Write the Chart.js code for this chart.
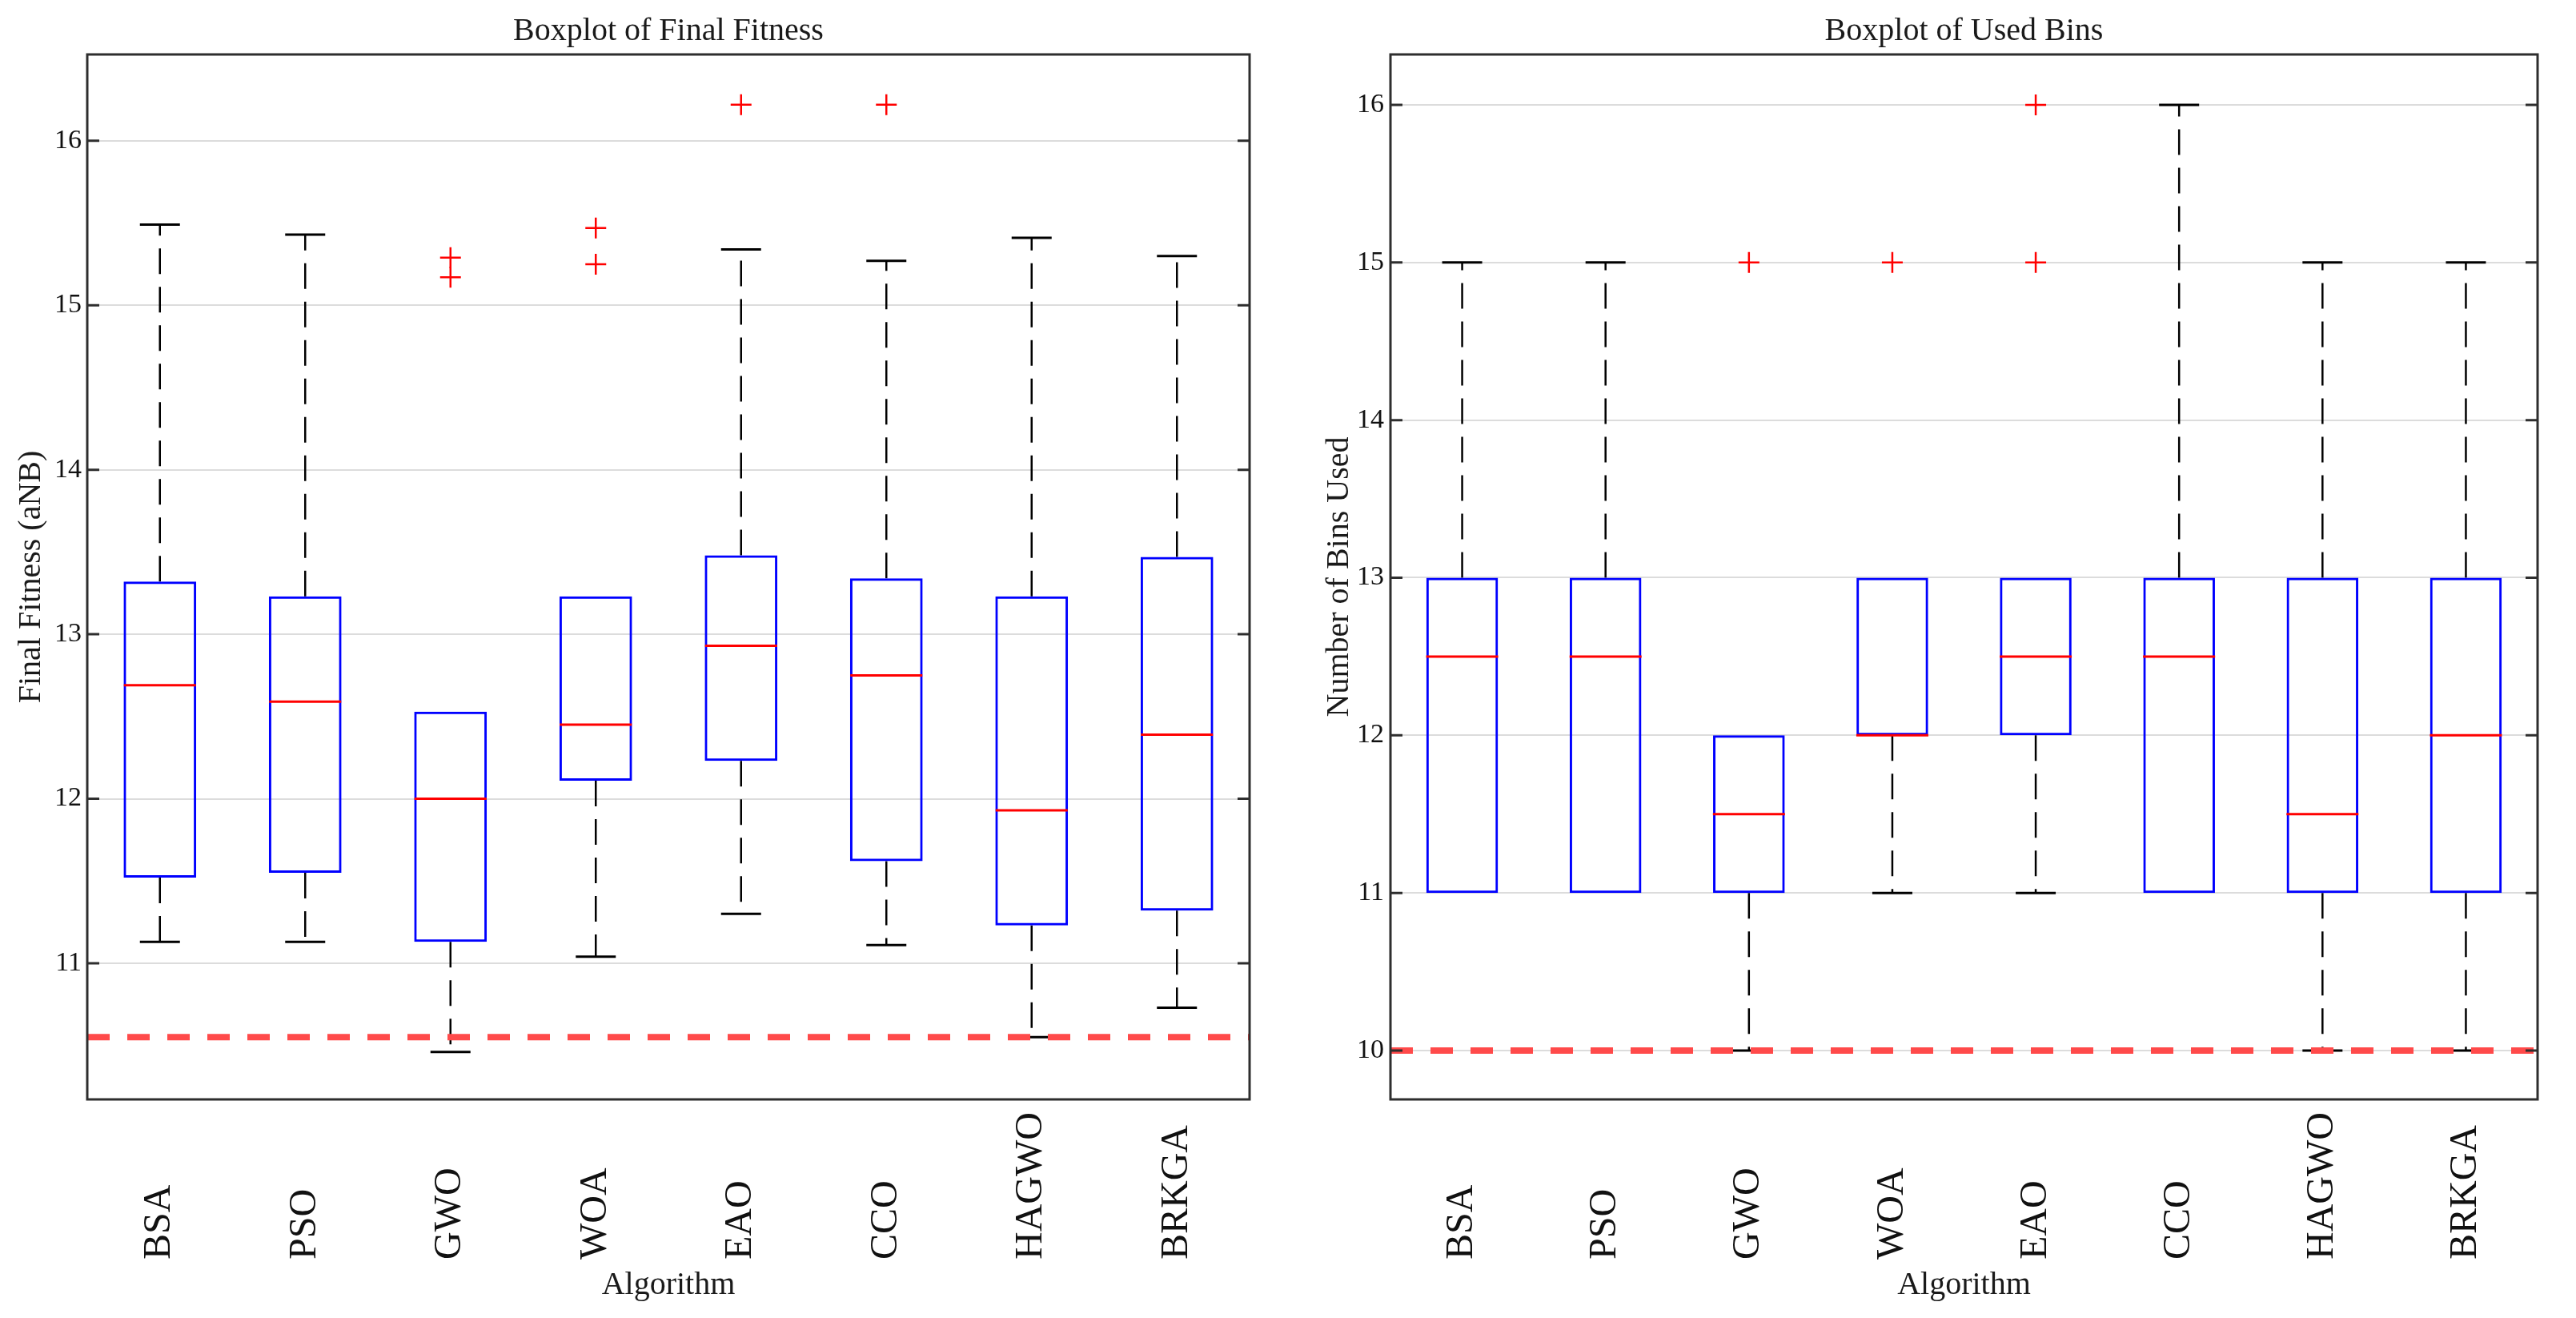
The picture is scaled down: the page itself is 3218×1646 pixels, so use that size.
<!DOCTYPE html>
<html lang="en">
<head>
<meta charset="UTF-8">
<title>Boxplots - Final Fitness / Used Bins</title>
<script src="https://cdn.jsdelivr.net/npm/chart.js"></script>
<style>
    body { margin: 0; background: #fff; }
    .panel { position: absolute; top: 0; width: 1609px; height: 1646px; }
    #left { left: 0; }
    #right { left: 1609px; }
</style>
</head>
<body>
<div class="panel" id="left"><canvas id="fitnessChart" width="1609" height="1646"></canvas></div>
<div class="panel" id="right"><canvas id="binsChart" width="1609" height="1646"></canvas></div>
<script>
// categories
const algorithms = ['BSA', 'PSO', 'GWO', 'WOA', 'EAO', 'CCO', 'HAGWO', 'BRKGA'];

// Final fitness (aNB)
const fitQ1     = [11.52, 11.55, 11.13, 12.11, 12.23, 11.62, 11.23, 11.32];
const fitMedian = [12.69, 12.59, 12.00, 12.45, 12.93, 12.75, 11.93, 12.39];
const fitQ3     = [13.32, 13.23, 12.53, 13.23, 13.48, 13.34, 13.23, 13.47];
const fitLow    = [11.13, 11.13, 10.46, 11.04, 11.30, 11.11, 10.55, 10.73];
const fitHigh   = [15.49, 15.43, 12.53, 13.23, 15.34, 15.27, 15.41, 15.30];
const fitOutliers = [['GWO', 15.29], ['GWO', 15.17], ['WOA', 15.47], ['WOA', 15.25], ['EAO', 16.22], ['CCO', 16.22]];
const fitBest = 10.55;
const fitTicks = [11, 12, 13, 14, 15, 16];

// Number of bins used
const binQ1     = [11, 11, 11, 12, 12, 11, 11, 11];
const binMedian = [12.5, 12.5, 11.5, 12, 12.5, 12.5, 11.5, 12];
const binQ3     = [13, 13, 12, 13, 13, 13, 13, 13];
const binLow    = [11, 11, 10, 11, 11, 11, 10, 10];
const binHigh   = [15, 15, 12, 13, 13, 16, 15, 15];
const binOutliers = [['GWO', 15], ['WOA', 15], ['EAO', 15], ['EAO', 16]];
const binBest = 10;
const binTicks = [10, 11, 12, 13, 14, 15, 16];

const SERIF = '"Liberation Serif", "Times New Roman", serif';

// whisker segments, one dataset with gaps between the categories
function whiskerPoints(from, to) {
    const pts = [];
    algorithms.forEach((a, i) => {
        pts.push({ x: a, y: from[i] }, { x: a, y: to[i] }, { x: a, y: null });
    });
    return pts;
}

// reference line, frame, inner tick marks and the rotated category labels
const boxFrame = {
    id: 'boxFrame',
    afterDatasetsDraw(chart, args, opts) {
        const { ctx, chartArea: area, scales: { y } } = chart;
        const py = y.getPixelForValue(opts.best);
        ctx.save();
        ctx.beginPath();
        ctx.rect(area.left, area.top, area.right - area.left, area.bottom - area.top);
        ctx.clip();
        ctx.strokeStyle = '#ff4a4a';
        ctx.lineWidth = 8;
        ctx.setLineDash([28, 22]);
        ctx.beginPath();
        ctx.moveTo(area.left, py);
        ctx.lineTo(area.right, py);
        ctx.stroke();
        ctx.restore();
    },
    afterDraw(chart, args, opts) {
        const { ctx, chartArea: area, scales: { x, y } } = chart;
        ctx.save();
        ctx.strokeStyle = '#2e2e2e';
        ctx.lineWidth = 3;
        ctx.strokeRect(area.left, area.top, area.right - area.left, area.bottom - area.top);
        opts.ticks.forEach(v => {
            const py = y.getPixelForValue(v);
            ctx.beginPath();
            ctx.moveTo(area.left, py); ctx.lineTo(area.left + 15, py);
            ctx.moveTo(area.right - 15, py); ctx.lineTo(area.right, py);
            ctx.stroke();
        });
        ctx.fillStyle = '#111';
        ctx.font = '48px ' + SERIF;
        ctx.textAlign = 'left';
        ctx.textBaseline = 'middle';
        algorithms.forEach((name, i) => {
            ctx.save();
            ctx.translate(x.getPixelForValue(i), 1573);
            ctx.rotate(-Math.PI / 2);
            ctx.fillText(name, 0, 0);
            ctx.restore();
        });
        ctx.restore();
    }
};

function makeBoxplot(id, cfg) {
    // a cap sitting on the box edge is hidden, as in the original plot
    const capRadius = edge => c => (cfg[edge][c.dataIndex] === c.raw ? 0 : 25);
    return new Chart(document.getElementById(id), {
        type: 'bar',
        data: {
            labels: algorithms,
            datasets: [
                {
                    type: 'line', order: 5,
                    data: whiskerPoints(cfg.q3, cfg.high),
                    borderColor: '#000', borderWidth: 2.5, borderDash: [32, 16],
                    pointRadius: 0, spanGaps: false
                },
                {
                    type: 'line', order: 5,
                    data: whiskerPoints(cfg.q1, cfg.low),
                    borderColor: '#000', borderWidth: 2.5, borderDash: [32, 16],
                    pointRadius: 0, spanGaps: false
                },
                {
                    type: 'line', order: 4, showLine: false,
                    data: cfg.high,
                    pointStyle: 'line', pointRadius: capRadius('q3'), pointBorderWidth: 3, pointBorderColor: '#000'
                },
                {
                    type: 'line', order: 4, showLine: false,
                    data: cfg.low,
                    pointStyle: 'line', pointRadius: capRadius('q1'), pointBorderWidth: 3, pointBorderColor: '#000'
                },
                {
                    order: 3, grouped: false,
                    data: algorithms.map((a, i) => [cfg.q1[i], cfg.q3[i]]),
                    backgroundColor: 'rgba(0,0,0,0)', borderColor: '#0000ff',
                    borderWidth: 3, borderSkipped: false,
                    barPercentage: 0.5, categoryPercentage: 1.0
                },
                {
                    type: 'line', order: 2, showLine: false,
                    data: cfg.median,
                    pointStyle: 'line', pointRadius: 45, pointBorderWidth: 3, pointBorderColor: '#ff0000'
                },
                {
                    type: 'line', order: 1, showLine: false,
                    data: cfg.outliers.map(o => ({ x: o[0], y: o[1] })),
                    pointStyle: 'cross', pointRadius: 13, pointBorderWidth: 2.5, pointBorderColor: '#ff0000'
                }
            ]
        },
        options: {
            responsive: false,
            animation: false,
            events: [],
            layout: { padding: { left: 0, right: cfg.padRight, top: 0, bottom: 0 } },
            plugins: {
                legend: { display: false },
                tooltip: { enabled: false },
                title: {
                    display: true, text: cfg.title, fullSize: false,
                    color: '#1a1a1a', font: { family: SERIF, size: 40, weight: 'normal' },
                    padding: { top: 15, bottom: 5 }
                },
                boxFrame: { ticks: cfg.ticks, best: cfg.best }
            },
            scales: {
                x: {
                    type: 'category', offset: true,
                    grid: { display: false },
                    border: { display: false },
                    ticks: { display: false },
                    title: {
                        display: true, text: 'Algorithm', color: '#1a1a1a',
                        font: { family: SERIF, size: 40 }, padding: { top: 0, bottom: 17 }
                    },
                    afterFit: s => { s.height = 273; }
                },
                y: {
                    min: cfg.min, max: cfg.max,
                    afterBuildTicks: s => { s.ticks = cfg.ticks.map(v => ({ value: v })); },
                    grid: { color: '#dcdcdc', lineWidth: 2, drawTicks: false },
                    border: { display: false },
                    ticks: {
                        color: '#111', padding: cfg.tickPad,
                        font: { family: SERIF, size: 34 },
                        callback: v => String(v)
                    },
                    title: {
                        display: true, text: cfg.yTitle, color: '#1a1a1a',
                        font: { family: SERIF, size: 40 }, padding: { top: cfg.yTitlePad, bottom: 0 }
                    },
                    afterFit: s => { s.width = cfg.yWidth; }
                }
            }
        },
        plugins: [boxFrame]
    });
}

makeBoxplot('fitnessChart', {
    title: 'Boxplot of Final Fitness', yTitle: 'Final Fitness (aNB)',
    q1: fitQ1, median: fitMedian, q3: fitQ3, low: fitLow, high: fitHigh,
    outliers: fitOutliers, best: fitBest, ticks: fitTicks,
    min: 10.172, max: 16.525,
    yWidth: 109, padRight: 37, tickPad: 7, yTitlePad: 15
});

makeBoxplot('binsChart', {
    title: 'Boxplot of Used Bins', yTitle: 'Number of Bins Used',
    q1: binQ1, median: binMedian, q3: binQ3, low: binLow, high: binHigh,
    outliers: binOutliers, best: binBest, ticks: binTicks,
    min: 9.69, max: 16.32,
    yWidth: 128, padRight: 24, tickPad: 8, yTitlePad: 40
});
</script>
</body>
</html>
